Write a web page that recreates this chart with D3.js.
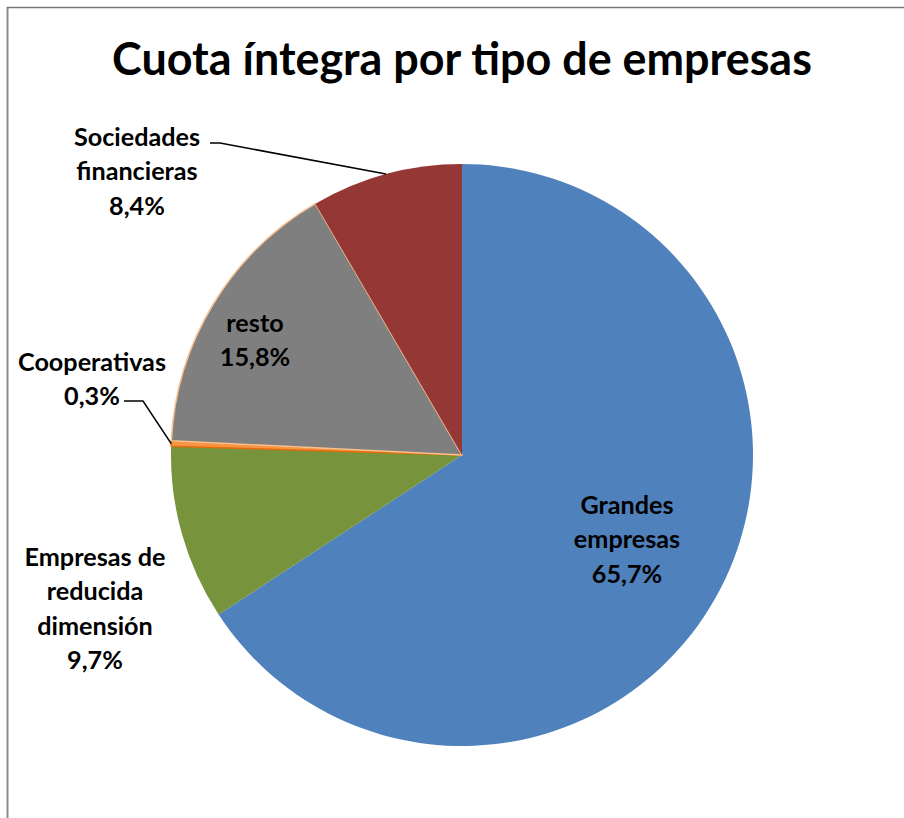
<!DOCTYPE html>
<html>
<head>
<meta charset="utf-8">
<script src="https://cdn.jsdelivr.net/npm/d3@7"></script>
<style>
  html, body { margin: 0; padding: 0; background: #fff; }
  svg { display: block; }
  text { font-family: Lato, "Open Sans", "Liberation Sans", sans-serif; font-weight: bold; fill: #000; }
</style>
</head>
<body>
<svg id="chart" width="904" height="818"></svg>
<script>
// ---- data ----
const title = "Cuota íntegra por tipo de empresas";
const categories = ["Grandes empresas", "Empresas de reducida dimensión", "Cooperativas", "resto", "Sociedades financieras"];
const values = [65.7, 9.7, 0.3, 15.8, 8.4];
const labelLines = [["Grandes", "empresas"], ["Empresas de", "reducida", "dimensión"], ["Cooperativas"], ["resto"], ["Sociedades", "financieras"]];
const colors = ["#4F81BD", "#77933C", "#F79646", "#7F7F7F", "#953735"];
const strokes = ["none", "none", "#E46C0A", "#FAC090", "none"];

// ---- layout ----
const W = 904, H = 818;
const cx = 462, cy = 455, R = 291;
const labelAnchor = [[627, 505], [95, 557], [92, 362], [255, 323], [137, 137]];
const leaderStart = [null, null, [124, 401], null, [210, 143]];
const leaderElbow = [null, null, [143, 401], null, [220, 143]];
const lineGap = 34.5;

const svg = d3.select("#chart");

// frame
svg.append("line").attr("x1", 7.5).attr("y1", 7).attr("x2", 7.5).attr("y2", H).attr("stroke", "#8c8c8c").attr("stroke-width", 2);
svg.append("line").attr("x1", 7).attr("y1", 7.5).attr("x2", W).attr("y2", 7.5).attr("stroke", "#777").attr("stroke-width", 1.5);

// title
const t = svg.append("text").attr("x", cx).attr("y", 75).attr("text-anchor", "middle").attr("font-size", 44).text(title);
const tw = t.node().getComputedTextLength();
t.attr("font-size", 44 * 700 / tw);

// label font size: fit "Cooperativas" to its reference width
const probe = svg.append("text").attr("font-size", 20).text("Cooperativas");
const labelSize = Math.min(26, 20 * 148 / probe.node().getComputedTextLength());
probe.remove();

const pie = d3.pie().value(d => d).sort(null);
const arcs = pie(values);
const arc = d3.arc().innerRadius(0).outerRadius(R);

const g = svg.append("g").attr("transform", `translate(${cx},${cy})`);
g.selectAll("path.slice").data(arcs).join("path")
  .attr("class", "slice")
  .attr("d", arc)
  .attr("fill", (d, i) => colors[i])
  .attr("stroke", (d, i) => strokes[i])
  .attr("stroke-width", (d, i) => strokes[i] === "none" ? 0 : 1.5)
  .attr("stroke-linejoin", "round");

// leader lines
arcs.forEach((a, i) => {
  if (!leaderStart[i]) return;
  const mid = (a.startAngle + a.endAngle) / 2;
  const ex = cx + R * Math.sin(mid), ey = cy - R * Math.cos(mid);
  svg.append("polyline")
    .attr("points", [leaderStart[i], leaderElbow[i], [ex, ey]].map(p => p.join(",")).join(" "))
    .attr("fill", "none").attr("stroke", "#000").attr("stroke-width", 1.5);
});

// labels
const fmt = v => d3.format(".1f")(v).replace(".", ",") + "%";
arcs.forEach((a, i) => {
  const lines = labelLines[i].concat([fmt(values[i])]);
  const txt = svg.append("text").attr("text-anchor", "middle").attr("font-size", labelSize);
  lines.forEach((l, j) => {
    txt.append("tspan").attr("x", labelAnchor[i][0]).attr("y", labelAnchor[i][1] + j * lineGap + labelSize * 0.35).text(l);
  });
});
</script>
</body>
</html>
